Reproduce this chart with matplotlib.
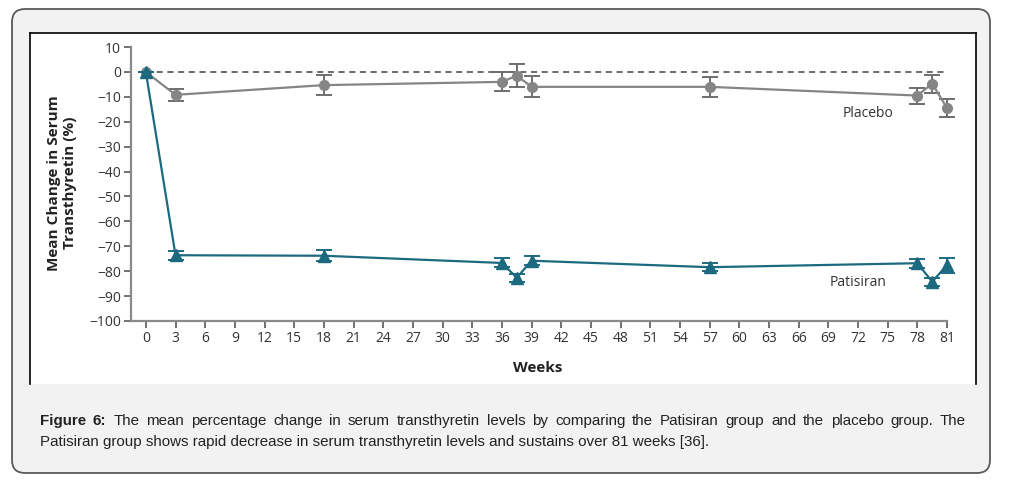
import matplotlib
matplotlib.use("Agg")
import matplotlib.pyplot as plt
from matplotlib.patches import FancyBboxPatch, Rectangle
from matplotlib.lines import Line2D

# data

weeks = [0, 3, 18, 36, 37.5, 39, 57, 78, 79.5, 81]

placebo = [0, -9.2, -5.3, -4.0, -1.5, -6.0, -6.0, -9.5, -4.7, -14.5]
placebo_err = [0, 2.4, 3.9, 3.8, 4.6, 4.2, 4.0, 3.2, 3.6, 3.8]

patisiran = [0, -73.6, -73.8, -76.7, -82.6, -75.8, -78.4, -76.8, -84.2, -77.6]
patisiran_err = [0, 1.9, 2.3, 1.8, 1.6, 1.8, 1.5, 1.8, 1.6, 3.0]

xticks = list(range(0, 82, 3))
yticks = [10, 0, -10, -20, -30, -40, -50, -60, -70, -80, -90, -100]
ytick_labels = ["10", "0", "\u221210", "\u221220", "\u221230", "\u221240", "\u221250",
                "\u221260", "\u221270", "\u221280", "\u221290", "\u2212100"]

caption_line1 = "Figure 6: The mean percentage change in serum transthyretin levels by comparing the Patisiran group and the placebo group. The"
caption_line2 = "Patisiran group shows rapid decrease in serum transthyretin levels and sustains over 81 weeks [36]."

W, H = 1019, 486
grey = "#858585"
teal = "#1c6a80"
axis_col = "#8a8a8a"
txt_col = "#333333"

fig = plt.figure(figsize=(W / 100, H / 100), dpi=100)
fig.patch.set_facecolor("white")


def fx(x):
    return x / W


def fy(y):
    return (H - y) / H


# outer rounded box (pixel coords)
box = FancyBboxPatch((12, H - 473), 978, 464, boxstyle="round,pad=0,rounding_size=13",
                     transform=None, facecolor="#f2f2f2", edgecolor="#5a5a5a", linewidth=1.3)
fig.patches.append(box)

# white chart panel with black border on three sides
fig.patches.append(Rectangle((fx(30), fy(384)), fx(976) - fx(30), fy(33) - fy(384),
                             transform=fig.transFigure, facecolor="white", edgecolor="none"))
for xs, ys in [([30, 30], [384, 33]), ([30, 976], [33, 33]), ([976, 976], [33, 384])]:
    fig.lines.append(Line2D([fx(v) for v in xs], [fy(v) for v in ys], transform=fig.transFigure,
                            color="black", linewidth=1.2))

# x range runs 2 weeks past 81 so the last markers are not cut off
ax = fig.add_axes([fx(131), fy(321), fx(966.8) - fx(131), fy(47) - fy(321)])
ax.set_facecolor("none")
ax.set_zorder(5)

ax.plot([0, 81], [0, 0], color="#444444", linestyle=(0, (4, 3)), linewidth=1.1, zorder=1)

ax.errorbar(weeks, placebo, yerr=placebo_err, color=grey, ecolor="#6e6e6e", marker="o",
            markersize=7, linewidth=1.6, elinewidth=1.4, capsize=6, capthick=1.4, zorder=3)
ax.errorbar(weeks, patisiran, yerr=patisiran_err, color=teal, ecolor=teal, marker="^",
            markersize=8, linewidth=1.6, elinewidth=1.4, capsize=6, capthick=1.4, zorder=4)

ax.set_xlim(-1.5, 83)
ax.set_ylim(-100, 10)
ax.set_xticks(xticks)
ax.set_yticks(yticks)
ax.set_yticklabels(ytick_labels)
for s in ["top", "right"]:
    ax.spines[s].set_visible(False)
for s in ["left", "bottom"]:
    ax.spines[s].set_color(axis_col)
    ax.spines[s].set_linewidth(1.6)
ax.spines["bottom"].set_bounds(-1.5, 81)
ax.tick_params(direction="out", length=5, width=1.3, color="#666666", labelcolor=txt_col,
               labelsize=10, pad=2)
for lab in ax.get_xticklabels() + ax.get_yticklabels():
    lab.set_family("Open Sans")

ax.text(73, -16.5, "Placebo", ha="center", va="center", fontsize=10, color=txt_col, family="Open Sans")
ax.text(72, -84.5, "Patisiran", ha="center", va="center", fontsize=10, color=txt_col, family="Open Sans")

fig.text(fx(62), fy(183), "Mean Change in Serum\nTransthyretin (%)", rotation=90, ha="center",
         va="center", multialignment="center", fontsize=11, fontweight="bold", color="#222222",
         family="Open Sans", linespacing=1.1, zorder=6)
fig.text(fx(538), fy(368), "Weeks", ha="center", va="center", fontsize=11, fontweight="bold",
         color="#222222", family="Open Sans", zorder=6)

# caption, first line justified like the original
renderer = fig.canvas.get_renderer()
cap_kw = dict(fontsize=10.9, color="#222222", family="Liberation Sans", va="baseline", zorder=6)
words = caption_line1.split(" ")
bold = [True, True] + [False] * (len(words) - 2)
widths = []
for w, b in zip(words, bold):
    t = fig.text(0, 0, w, fontweight="bold" if b else "normal", **cap_kw)
    widths.append(t.get_window_extent(renderer).width)
    t.remove()
x0, x1 = 40, 966
gap = (x1 - x0 - sum(widths)) / (len(words) - 1)
x = x0
for w, b, wd in zip(words, bold, widths):
    fig.text(fx(x), fy(425), w, fontweight="bold" if b else "normal", **cap_kw)
    x += wd + gap
fig.text(fx(40), fy(446), caption_line2, **cap_kw)

fig.savefig("out.png", dpi=100, facecolor="white")
